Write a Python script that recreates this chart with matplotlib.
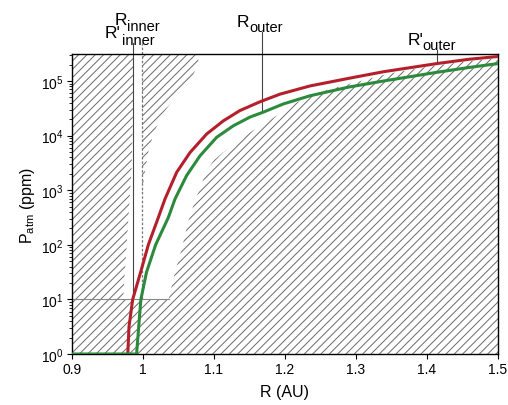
import numpy as np
import matplotlib
matplotlib.use("Agg")
import matplotlib.pyplot as plt

plt.rcParams['font.family'] = ['Liberation Sans', 'DejaVu Sans']
plt.rcParams['mathtext.fontset'] = 'custom'
plt.rcParams['mathtext.rm'] = 'Liberation Sans'
plt.rcParams['mathtext.it'] = 'Liberation Sans:italic'
plt.rcParams['hatch.linewidth'] = 0.7

# curves: R (AU) and log10 of P_atm (ppm)
red_r = [0.9786, 0.9803, 0.9855, 0.9967, 1.0075, 1.0216, 1.031, 1.0475, 1.0662, 1.0897,
         1.1131, 1.1366, 1.1648, 1.193, 1.2352, 1.29, 1.3385, 1.414, 1.46, 1.5]
red_logp = [0.0, 0.5, 1.0, 1.5, 2.0, 2.5, 2.84, 3.33, 3.69, 4.03,
            4.27, 4.46, 4.62, 4.76, 4.91, 5.05, 5.17, 5.32, 5.40, 5.45]

green_r = [0.9, 0.991, 0.994, 0.997, 1.005, 1.0178, 1.0357, 1.0451, 1.0615, 1.0803, 1.1038,
           1.1272, 1.1507, 1.1694, 1.1976, 1.2352, 1.29, 1.3385, 1.414, 1.46, 1.5]
green_logp = [0.0, 0.0, 0.5, 1.0, 1.5, 2.0, 2.5, 2.84, 3.27, 3.63, 3.97,
              4.18, 4.34, 4.43, 4.58, 4.73, 4.89, 5.0, 5.16, 5.25, 5.32]

# excluded (hatched) regions
top = 5.495
regA_r = [0.9, 0.972, 0.984, 0.986, 0.986, 0.9]
regA_logp = [1.0, 1.0, 3.4, 4.5, top, top]

regB_r = [0.9986, 1.078, 1.078, 1.0662, 1.045, 1.029, 1.016, 1.008, 1.003, 0.9986]
regB_logp = [top, top, 5.31, 5.0, 4.70, 4.42, 4.08, 3.74, 3.35, 2.93]

bound_r = [1.036, 1.045, 1.0545, 1.063, 1.074, 1.081, 1.089, 1.1, 1.118, 1.135, 1.151,
           1.168, 1.184, 1.2, 1.215, 1.235, 1.26, 1.3, 1.348, 1.4, 1.45, 1.5]
bound_logp = [1.0, 1.5, 1.92, 2.4, 2.84, 3.05, 3.35, 3.55, 3.75, 3.92, 4.06,
              4.2, 4.33, 4.47, 4.6, 4.72, 4.84, 4.98, 5.14, 5.26, 5.35, 5.42]

r_inner_p = 0.986
r_inner = 0.9986
r_outer = 1.1676
r_outer_p = 1.414

xticks = [0.9, 1.0, 1.1, 1.2, 1.3, 1.4, 1.5]
xticklabels = ['0.9', '1', '1.1', '1.2', '1.3', '1.4', '1.5']

red = '#b3202c'
green = '#2b8a3c'
hcol = '#6a6a6a'

fig = plt.figure(figsize=(5.08, 4.06), dpi=100)
ax = fig.add_axes([0.1417, 0.1256, 0.8386, 0.7389])
ax.set_yscale('log')

def P(v):
    return 10 ** np.array(v)

ax.fill(regA_r, P(regA_logp), facecolor='none', edgecolor=hcol, hatch='////', lw=0)
ax.fill(regB_r, P(regB_logp), facecolor='none', edgecolor=hcol, hatch='////', lw=0)
regC_r = [0.9, 1.5] + bound_r[::-1] + [0.9]
regC_logp = [0.0, 0.0] + bound_logp[::-1] + [1.0]
ax.fill(regC_r, P(regC_logp), facecolor='none', edgecolor=hcol, hatch='////', lw=0)

ax.plot([0.9, bound_r[0]], [10, 10], color='#888888', lw=0.8)

# marker lines
ax.plot([r_inner_p, r_inner_p], [10, 10 ** 5.7], color='#444444', lw=0.8, clip_on=False)
ax.plot([r_inner, r_inner], [10, 10 ** 5.7], color='#777777', lw=0.9, ls=(0, (2, 1.5)),
        clip_on=False)
ax.plot([r_outer, r_outer], [10 ** 4.43, 10 ** 5.9], color='#444444', lw=0.8, clip_on=False)
ax.plot([r_outer_p, r_outer_p], [10 ** 5.32, 10 ** 5.56], color='#444444', lw=0.8,
        clip_on=False)

ax.plot(red_r, P(red_logp), color=red, lw=2.2, zorder=4)
ax.plot(green_r, P(green_logp), color=green, lw=2.2, zorder=5)

ax.set_xlim(0.9, 1.5)
ax.set_ylim(1, 10 ** top)
ax.set_xticks(xticks)
ax.set_xticklabels(xticklabels)
ax.tick_params(axis='both', which='major', labelsize=10, direction='out', length=3.5, pad=2.5)
ax.tick_params(axis='y', which='minor', direction='out', length=2)
ax.tick_params(axis='x', which='minor', bottom=False)
for s in ax.spines.values():
    s.set_linewidth(1.0)

ax.set_xlabel('R (AU)', fontsize=11.5)
ax.xaxis.set_label_coords(0.5, -0.1)
ax.set_ylabel(r'P$_{\mathrm{atm}}$ (ppm)', fontsize=11.5)
ax.yaxis.set_label_coords(-0.082, 0.5)

W, H = 508.0, 406.0
def lab(x, y, s, size):
    fig.text(x / W, 1 - y / H, s, fontsize=size, ha='left', va='baseline')

lab(115, 25, 'R', 12.5)
lab(127, 31, 'inner', 10.5)
lab(105, 38, "R'", 12.5)
lab(122, 45, 'inner', 10.5)
lab(237, 27, 'R', 12.5)
lab(249, 32, 'outer', 10.5)
lab(408, 45, "R'", 12.5)
lab(422, 50, 'outer', 10.5)

fig.savefig('out.png', dpi=100)
